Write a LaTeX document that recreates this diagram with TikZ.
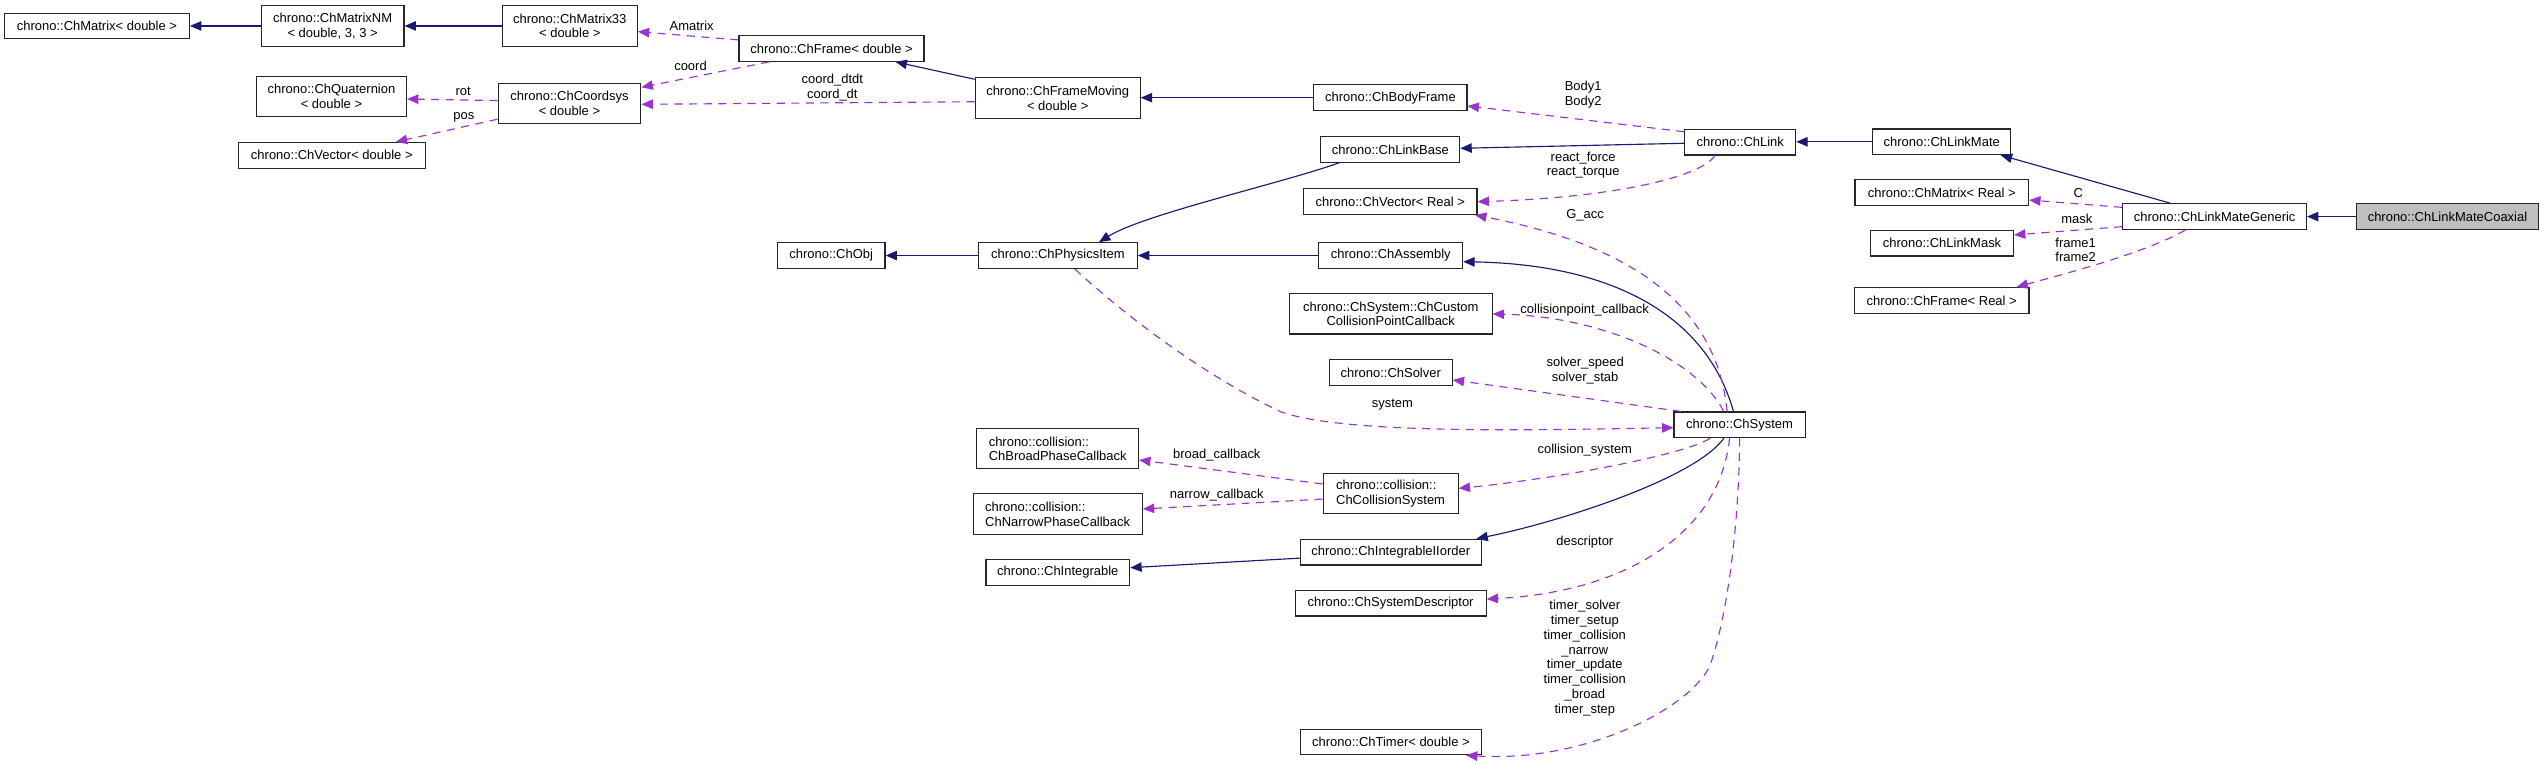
\documentclass[tikz,border=0pt]{standalone}
\usepackage{fontspec}
\setmainfont{Liberation Sans}
\usetikzlibrary{arrows.meta}
\definecolor{edgeblue}{HTML}{191970}
\definecolor{edgepurple}{HTML}{9A32CD}
\definecolor{boxgray}{HTML}{BFBFBF}
\begin{document}
\begin{tikzpicture}[x=1pt,y=-1pt,
  box/.style={draw=black!85, line width=0.7pt, fill=white, rectangle, inner sep=0pt,
    minimum height=15.8pt, font=\fontsize{8}{9.1}\selectfont, align=center},
  boxtwo/.style={box, minimum height=24.8pt},
  inh/.style={draw=edgeblue, line width=0.7pt, -{Triangle[length=7pt,width=5.8pt]}},
  use/.style={draw=edgepurple, line width=0.7pt, dash pattern=on 5pt off 4pt,
    -{Triangle[length=7pt,width=5.8pt]}},
  lbl/.style={font=\fontsize{8}{9.1}\selectfont, align=center, inner sep=0pt}]
\useasboundingbox (0,0) rectangle (1568,471);

% nodes
\node[box, minimum width=113.9pt] (mat) at (59.75,16) {chrono::ChMatrix< double >};
\node[boxtwo, minimum width=88pt] (nm) at (205,16) {chrono::ChMatrixNM\\< double, 3, 3 >};
\node[boxtwo, minimum width=83.2pt] (m33) at (351.2,16) {chrono::ChMatrix33\\< double >};
\node[box, minimum width=114pt] (frame) at (512.5,29.9) {chrono::ChFrame< double >};
\node[boxtwo, minimum width=92.5pt] (quat) at (204.3,59.6) {chrono::ChQuaternion\\< double >};
\node[boxtwo, minimum width=88pt] (coord) at (351,63.7) {chrono::ChCoordsys\\< double >};
\node[box, minimum width=115pt] (vecd) at (204.5,95.7) {chrono::ChVector< double >};
\node[boxtwo, minimum width=101.7pt] (fmov) at (651.9,60.4) {chrono::ChFrameMoving\\< double >};
\node[box, minimum width=94.4pt] (bodyf) at (857,60.2) {chrono::ChBodyFrame};
\node[box, minimum width=85.7pt] (lbase) at (856.9,92.1) {chrono::ChLinkBase};
\node[box, minimum width=68.3pt] (link) at (1072.6,87.6) {chrono::ChLink};
\node[box, minimum width=85.2pt] (lmate) at (1196.8,87.4) {chrono::ChLinkMate};
\node[box, minimum width=106.9pt] (vecr) at (856.9,124.3) {chrono::ChVector< Real >};
\node[box, minimum width=113.2pt] (lmg) at (1365,133.5) {chrono::ChLinkMateGeneric};
\node[box, minimum width=112.3pt, fill=boxgray] (lmc) at (1508.5,133.5) {chrono::ChLinkMateCoaxial};
\node[box, minimum width=107pt] (matr) at (1196.8,118.7) {chrono::ChMatrix< Real >};
\node[box, minimum width=88pt] (mask) at (1197,149.9) {chrono::ChLinkMask};
\node[box, minimum width=107.6pt] (framer) at (1196.8,185.2) {chrono::ChFrame< Real >};
\node[box, minimum width=66.4pt] (obj) at (512.3,157.5) {chrono::ChObj};
\node[box, minimum width=98pt] (phys) at (652,157.5) {chrono::ChPhysicsItem};
\node[box, minimum width=88.6pt] (asm) at (857.2,157.5) {chrono::ChAssembly};
\node[boxtwo, minimum width=124.9pt] (ccpc) at (857.2,193.5) {chrono::ChSystem::ChCustom\\CollisionPointCallback};
\node[box, minimum width=75.7pt] (solver) at (857.2,229.6) {chrono::ChSolver};
\node[box, minimum width=80.8pt] (sys) at (1072.2,261.8) {chrono::ChSystem};
\node[boxtwo, minimum width=99.7pt, align=left] (bpc) at (651.9,276.6) {chrono::collision::\\ChBroadPhaseCallback};
\node[boxtwo, minimum width=83.2pt, align=left] (ccs) at (857.1,304.3) {chrono::collision::\\ChCollisionSystem};
\node[boxtwo, minimum width=104.3pt, align=left] (npc) at (651.9,316.8) {chrono::collision::\\ChNarrowPhaseCallback};
\node[box, minimum width=111.5pt] (iio) at (857.2,340.3) {chrono::ChIntegrableIIorder};
\node[box, minimum width=88.6pt] (integ) at (652,352.8) {chrono::ChIntegrable};
\node[box, minimum width=117.7pt] (sdesc) at (857.1,371.8) {chrono::ChSystemDescriptor};
\node[box, minimum width=111.8pt] (timer) at (857.3,457.3) {chrono::ChTimer< double >};

% inheritance edges
\draw[inh] (nm.west) -- (mat.east);
\draw[inh] (m33.west) -- (nm.east);
\draw[inh] ([yshift=-1.2pt]fmov.north west) -- ([xshift=39.5pt]frame.south);
\draw[inh] (bodyf.west) -- (bodyf.west -| fmov.east);
\draw[inh] ([yshift=-0.7pt]link.west) -- ([yshift=0.7pt]lbase.east);
\draw[inh] (lmate.west) -- (lmate.west -| link.east);
\draw[inh] ([xshift=-27.3pt]lmg.north) -- ([xshift=36.4pt]lmate.south);
\draw[inh] (lmc.west) -- (lmc.west -| lmg.east);
\draw[inh] ([xshift=-31.6pt]lbase.south) .. controls (790,113) and (705,132) .. ([xshift=25.4pt]phys.north);
\draw[inh] (phys.west) -- (obj.east);
\draw[inh] (asm.west) -- (phys.east);
\draw[inh] ([xshift=-3.8pt]sys.north) .. controls (1052,195) and (995,163) .. ([yshift=-3.8pt]asm.east);
\draw[inh] ([xshift=-9.7pt]sys.south) .. controls (1045,295) and (960,322) .. ([xshift=-3.3pt]iio.north east);
\draw[inh] ([yshift=-3.7pt]iio.west) -- ([yshift=2.9pt]integ.east);

% usage edges
\draw[use] ([yshift=5.3pt]frame.west) -- ([yshift=-3.5pt]m33.east);
\draw[use] ([xshift=-38.5pt]frame.south) -- ([yshift=9.9pt]coord.east);
\draw[use] ([yshift=-2.3pt]fmov.west) -- ([yshift=-0.6pt]coord.east);
\draw[use] ([yshift=1.7pt]coord.west) -- ([yshift=-1.4pt]quat.east);
\draw[use] ([yshift=-9.8pt]coord.west) -- ([xshift=39.5pt]vecd.north);
\draw[use] ([yshift=6.4pt]link.west) -- ([yshift=-5.1pt]bodyf.east);
\draw[use] ([xshift=-15.6pt]link.south) .. controls (1048,110) and (990,122) .. (vecr.east);
\draw[use] ([xshift=-7.7pt]sys.north) .. controls (1058,185) and (1000,150) .. ([xshift=-1.5pt]vecr.south east);
\draw[use] ([xshift=-9.8pt]sys.north) .. controls (1045,220) and (985,195) .. (ccpc.east);
\draw[use] ([xshift=4.6pt]sys.north west) -- ([yshift=-4.6pt]solver.east);
\draw[use] ([xshift=10.4pt]phys.south) .. controls (705,205) and (755,238) .. (790,254)
   .. controls (830,268) and (950,265) .. ([yshift=-1.8pt]sys.west);
\draw[use] ([xshift=-18.2pt]sys.south) .. controls (1040,280) and (960,295) .. ([yshift=3.3pt]ccs.east);
\draw[use] ([yshift=6pt]ccs.west) -- ([yshift=-6.9pt]bpc.east);
\draw[use] ([yshift=-3.3pt]ccs.west) -- ([yshift=3.1pt]npc.east);
\draw[use] ([xshift=-6.2pt]sys.south) .. controls (1060,330) and (1000,365) .. ([yshift=2.6pt]sdesc.east);
\draw[use] (sys.south) .. controls (1072,320) and (1065,380) .. (1053.6,411)
   .. controls (1040,438) and (975,470) .. ([xshift=-10pt]timer.south east);
\draw[use] ([yshift=5.7pt]lmg.west) -- ([yshift=-4.6pt]matr.east);
\draw[use] ([yshift=-6.2pt]lmg.west) -- ([yshift=5.1pt]mask.east);
\draw[use] ([xshift=-18pt]lmg.south) .. controls (1322,156) and (1275,168) .. ([xshift=-8pt]framer.north east);

% labels
\node[lbl] (lAmatrix) at (426.3,15.8) {Amatrix};
\node[lbl] (lcoord) at (425.6,40.7) {coord};
\node[lbl] (lcoorddt) at (513,54.2) {coord\_dtdt\\coord\_dt};
\node[lbl] (lrot) at (285.5,56.1) {rot};
\node[lbl] (lpos) at (285.9,72.3) {pos};
\node[lbl] (lbody) at (975.8,58.2) {Body1\\Body2};
\node[lbl] (lreact) at (975.8,101.8) {react\_force\\react\_torque};
\node[lbl] (lgacc) at (977,132.4) {G\_acc};
\node[lbl] (lC) at (1281,119.2) {C};
\node[lbl] (lmask) at (1280,134.6) {mask};
\node[lbl] (lframe) at (1279.3,154) {frame1\\frame2};
\node[lbl] (lcpc) at (976.7,190.9) {collisionpoint\_callback};
\node[lbl] (lsolver) at (977,228.2) {solver\_speed\\solver\_stab};
\node[lbl] (lsystem) at (858.2,249.6) {system};
\node[lbl] (lcolsys) at (976.8,277.4) {collision\_system};
\node[lbl] (lbroad) at (750,280.4) {broad\_callback};
\node[lbl] (lnarrow) at (750,305) {narrow\_callback};
\node[lbl] (ldesc) at (976.8,333.9) {descriptor};
\node[lbl] (ltimer) at (976.8,405.7) {timer\_solver\\timer\_setup\\timer\_collision\\\_narrow\\timer\_update\\timer\_collision\\\_broad\\timer\_step};
\end{tikzpicture}
\end{document}
